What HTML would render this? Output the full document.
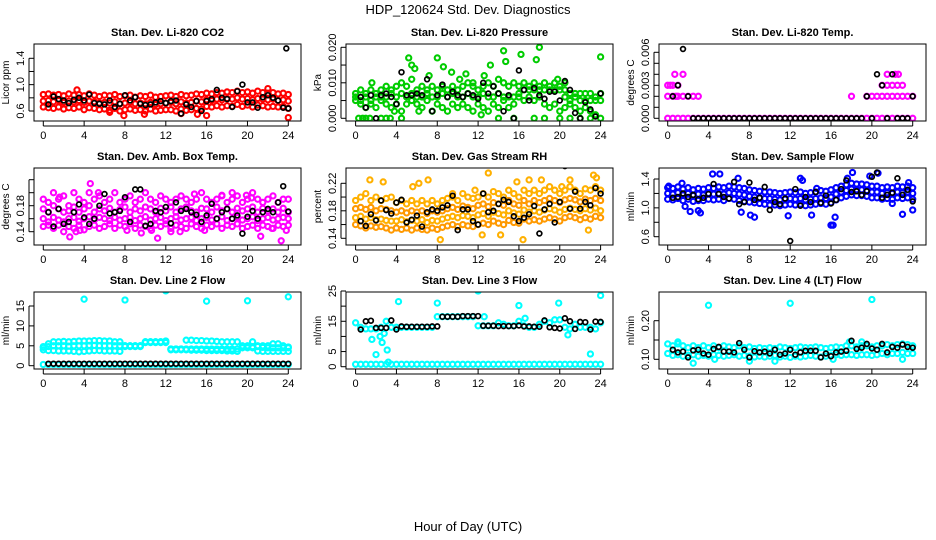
<!DOCTYPE html>
<html><head><meta charset="utf-8">
<style>
html,body{margin:0;padding:0;background:#fff;}
svg{display:block;font-family:"Liberation Sans",Arial,sans-serif;}
</style></head>
<body>
<svg id="chart" width="936" height="540" viewBox="0 0 936 540" xmlns="http://www.w3.org/2000/svg">
<text x="468" y="14" text-anchor="middle" font-size="13">HDP_120624  Std. Dev. Diagnostics</text>
<text x="468" y="531" text-anchor="middle" font-size="13">Hour of Day (UTC)</text>
</svg>
<script>
const gridHours=[0,0.5,1,1.5,2,2.5,3,3.5,4,4.5,5,5.5,6,6.5,7,7.5,8,8.5,9,9.5,10,10.5,11,11.5,12,12.5,13,13.5,14,14.5,15,15.5,16,16.5,17,17.5,18,18.5,19,19.5,20,20.5,21,21.5,22,22.5,23,23.5,24];
const blackHours=[0.5,1,1.5,2,2.5,3,3.5,4,4.5,5,5.5,6,6.5,7,7.5,8,8.5,9,9.5,10,10.5,11,11.5,12,12.5,13,13.5,14,14.5,15,15.5,16,16.5,17,17.5,18,18.5,19,19.5,20,20.5,21,21.5,22,22.5,23,23.5,24];
const xTicks=[0,4,8,12,16,20,24];
const panelTitles=["Stan. Dev. Li-820 CO2","Stan. Dev. Li-820 Pressure","Stan. Dev. Li-820 Temp.","Stan. Dev. Amb. Box Temp.","Stan. Dev. Gas Stream RH","Stan. Dev. Sample Flow","Stan. Dev. Line 2 Flow","Stan. Dev. Line 3 Flow","Stan. Dev. Line 4 (LT) Flow"];
const yTitles=["Licor ppm","kPa","degrees C","degrees C","percent","ml/min","ml/min","ml/min","ml/min"];
const yTicks=[[0.6,0.8,1.0,1.2,1.4],[0,0.005,0.01,0.015,0.02],[0,0.001,0.002,0.003,0.004,0.005,0.006],[0.14,0.16,0.18,0.2,0.22],[0.14,0.16,0.18,0.2,0.22],[0.6,0.8,1.0,1.2,1.4],[0,5,10,15],[0,5,10,15,20,25],[0.1,0.15,0.2]];
const yTickLabels=[["0.6","","1.0","","1.4"],["0.000","","0.010","","0.020"],["0.000","","","0.003","","","0.006"],["0.14","","0.18","",""],["0.14","","0.18","","0.22"],["0.6","","1.0","","1.4"],["0","5","10","15"],["0","5","","15","","25"],["0.10","","0.20"]];

// P1 CO2
const co2Hi=[0.85,0.86,0.84,0.85,0.83,0.86,0.84,0.85,0.83,0.86,0.84,0.82,0.84,0.83,0.85,0.82,0.83,0.84,0.81,0.83,0.82,0.84,0.81,0.82,0.83,0.84,0.82,0.85,0.83,0.84,0.86,0.85,0.87,0.86,0.88,0.87,0.89,0.88,0.90,0.88,0.89,0.87,0.90,0.88,0.87,0.88,0.86,0.87,0.85];
const co2Mid=[0.75,0.76,0.74,0.76,0.73,0.75,0.74,0.76,0.73,0.75,0.74,0.72,0.73,0.72,0.74,0.71,0.72,0.73,0.71,0.72,0.71,0.73,0.70,0.71,0.72,0.73,0.71,0.74,0.72,0.73,0.75,0.74,0.77,0.76,0.78,0.77,0.79,0.78,0.80,0.78,0.79,0.77,0.79,0.78,0.77,0.78,0.76,0.77,0.75];
const co2Lo=[0.66,0.65,0.64,0.66,0.63,0.65,0.64,0.66,0.62,0.65,0.64,0.62,0.63,0.61,0.64,0.60,0.62,0.63,0.61,0.62,0.60,0.63,0.60,0.61,0.62,0.62,0.60,0.63,0.61,0.62,0.64,0.63,0.67,0.66,0.68,0.66,0.68,0.67,0.70,0.67,0.69,0.66,0.69,0.68,0.66,0.67,0.66,0.67,0.64];
const co2OutX=[3.3,6.5,7.9,9.9,13.5,15.1,16.0,22.0,24.0];
const co2OutY=[0.92,0.58,0.53,0.55,0.56,0.55,0.53,0.94,0.50];
const co2Black=[0.70,0.82,0.78,0.76,0.72,0.77,0.80,0.76,0.85,0.72,0.71,0.70,0.76,0.66,0.71,0.84,0.76,0.81,0.71,0.69,0.70,0.73,0.75,0.72,0.75,0.76,0.56,0.70,0.66,0.75,0.60,0.75,0.78,0.92,0.80,0.78,0.66,0.90,1.00,0.73,0.73,0.65,0.81,0.84,0.80,0.76,0.65,0.64];
const co2BlackOutX=[23.8];
const co2BlackOutY=[1.55];

// P2 pressure
const presHi=[0.007,0.008,0.007,0.008,0.007,0.008,0.009,0.008,0.009,0.010,0.009,0.011,0.008,0.009,0.008,0.009,0.008,0.009,0.008,0.009,0.008,0.009,0.010,0.009,0.008,0.009,0.010,0.009,0.011,0.010,0.009,0.010,0.009,0.010,0.009,0.010,0.009,0.010,0.009,0.010,0.009,0.008,0.007,0.007,0.007,0.007,0.007,0.006,0.007];
const presMid=[0.006,0.005,0.006,0.005,0.006,0.006,0.006,0.007,0.006,0.007,0.006,0.007,0.006,0.006,0.007,0.006,0.006,0.007,0.006,0.007,0.006,0.006,0.007,0.006,0.006,0.007,0.006,0.006,0.007,0.006,0.006,0.006,0.007,0.008,0.008,0.008,0.008,0.008,0.008,0.008,0.008,0.006,0.005,0.006,0.005,0.005,0.005,0.005,0.005];
const presLo=[0.005,0.004,0.003,0.004,0.003,0.005,0.004,0.003,0.004,0.002,0.004,0.005,0.004,0.003,0.005,0.002,0.004,0.003,0.002,0.004,0.003,0.004,0.003,0.002,0.004,0.003,0.002,0.004,0.003,0.005,0.003,0.004,0.006,0.005,0.006,0.005,0.006,0.004,0.003,0.004,0.002,0.003,0.004,0.003,0.002,0.003,0.002,0.001,0.000];
const presOutX=[0.3,0.7,1.0,1.4,2.5,3.0,3.4,4.5,1.6,5.2,5.5,5.8,8.0,8.6,9.4,10.8,12.6,13.2,14.5,14.7,16.2,17.7,18.0,19.8,20.5,24.0,6.2,3.8,14.0,15.5,17.5,18.5,20,21,22,23,11.5,10.2,7.2,12.3];
const presOutY=[0,0,0,0,0,0,0,0,0.010,0.017,0.015,0.014,0.017,0.0145,0.013,0.0125,0.012,0.015,0.019,0.016,0.018,0.0165,0.020,0.011,0.010,0.0173,0.002,0.002,0,0,0,0,0,0,0,0,0.010,0.011,0.012,0.001];
const presBlack=[0.006,0.003,0.0065,0.000,0.0065,0.007,0.006,0.004,0.013,0.0065,0.0065,0.007,0.0065,0.011,0.002,0.0065,0.0095,0.006,0.0075,0.0065,0.006,0.007,0.0065,0.0055,0.010,0.007,0.009,0.007,0.002,0.0065,0.000,0.0135,0.008,0.005,0.0085,0.0065,0.0055,0.0075,0.0075,0.005,0.0105,0.008,0.0015,0.000,0.0045,0.0025,0.0005,0.007];

// P3 temp
const tempZero=[0,0,0,0,0,0,0,0,0,0,0,0,0,0,0,0,0,0,0,0,0,0,0,0,0,0,0,0,0,0,0,0,0,0,0,0,0,0,0,0,0,0,0,0,0,0,0,0,0];
const tempTwo=[0.002,0.002,0.002,0.002,0.002,0.002,0.002,null,null,null,null,null,null,null,null,null,null,null,null,null,null,null,null,null,null,null,null,null,null,null,null,null,null,null,null,null,0.002,null,null,0.002,0.002,0.002,0.002,0.002,0.002,0.002,0.002,0.002,0.002];
const tempThree=[0.003,0.003,0.003,null,null,null,null,null,null,null,null,null,null,null,null,null,null,null,null,null,null,null,null,null,null,null,null,null,null,null,null,null,null,null,null,null,null,null,null,null,null,null,0.003,0.003,0.003,0.003,0.003,null,null];
const tempOutX=[0.7,1.5,21.5,22.3,22.6,0.25,0.8];
const tempOutY=[0.004,0.004,0.004,0.004,0.004,0.003,0.002];
const tempBlack=[0.002,0.003,0.0063,0.002,0,0,0,0,0,0,0,0,0,0,0,0,0,0,0,0,0,0,0,0,0,0,0,0,0,0,0,0,0,0,0,0,0,0,0.002,0,0.004,0.003,0,0.004,0,0,0,0.002];

// P4 ambient box temp
const ambHi=[0.19,0.185,0.20,0.19,0.195,0.18,0.20,0.19,0.185,0.20,0.19,0.195,0.185,0.19,0.2,0.185,0.19,0.195,0.185,0.19,0.2,0.19,0.185,0.195,0.19,0.185,0.19,0.195,0.19,0.185,0.19,0.2,0.19,0.185,0.19,0.195,0.185,0.19,0.195,0.185,0.19,0.2,0.19,0.185,0.19,0.195,0.185,0.19,0.19];
const ambM1=[0.175,0.17,0.18,0.175,0.17,0.172,0.178,0.17,0.175,0.18,0.17,0.175,0.172,0.176,0.17,0.174,0.178,0.17,0.175,0.172,0.178,0.175,0.17,0.176,0.172,0.178,0.17,0.175,0.178,0.172,0.17,0.176,0.175,0.17,0.178,0.172,0.175,0.17,0.176,0.172,0.175,0.178,0.17,0.176,0.172,0.175,0.17,0.176,0.17];
const ambM2=[0.16,0.155,0.162,0.158,0.155,0.16,0.162,0.156,0.16,0.163,0.158,0.162,0.16,0.157,0.162,0.158,0.16,0.162,0.157,0.16,0.163,0.158,0.16,0.162,0.157,0.16,0.163,0.158,0.16,0.162,0.157,0.16,0.162,0.158,0.16,0.163,0.157,0.16,0.162,0.158,0.16,0.163,0.157,0.16,0.162,0.158,0.16,0.162,0.16];
const ambLo=[0.148,0.15,0.145,0.15,0.14,0.148,0.145,0.15,0.143,0.148,0.15,0.145,0.148,0.152,0.145,0.15,0.148,0.152,0.145,0.15,0.148,0.145,0.15,0.148,0.152,0.145,0.15,0.148,0.145,0.152,0.148,0.145,0.15,0.148,0.152,0.145,0.15,0.148,0.152,0.145,0.148,0.15,0.145,0.15,0.148,0.145,0.15,0.148,0.15];
const ambOutX=[4.6,1.6,2.6,3.2,3.6,5.4,8.2,9.6,10.6,11.2,13.4,14.8,15.8,17.5,18.5,20.4,21.3,22.4,23.3,23.8,19.9,12.5];
const ambOutY=[0.214,0.193,0.132,0.14,0.142,0.20,0.142,0.138,0.142,0.13,0.14,0.198,0.142,0.196,0.20,0.192,0.133,0.145,0.126,0.142,0.196,0.14];
const ambBlack=[0.17,0.148,0.175,0.152,0.155,0.17,0.182,0.162,0.152,0.160,0.180,0.198,0.168,0.17,0.172,0.193,0.155,0.205,0.205,0.149,0.152,0.172,0.17,0.178,0.153,0.185,0.172,0.175,0.170,0.166,0.155,0.165,0.183,0.160,0.17,0.175,0.160,0.165,0.137,0.163,0.172,0.160,0.170,0.175,0.170,0.185,0.210,0.171];

// P5 gas stream RH
const rhHi=[0.195,0.20,0.205,0.195,0.20,0.195,0.198,0.20,0.192,0.195,0.19,0.195,0.19,0.195,0.19,0.195,0.19,0.195,0.198,0.2,0.195,0.205,0.20,0.198,0.2,0.205,0.20,0.208,0.205,0.2,0.21,0.205,0.2,0.21,0.205,0.21,0.205,0.21,0.215,0.21,0.205,0.21,0.215,0.21,0.205,0.212,0.21,0.215,0.21];
const rhM1=[0.183,0.185,0.182,0.185,0.18,0.183,0.182,0.18,0.178,0.18,0.177,0.18,0.178,0.18,0.176,0.18,0.178,0.18,0.183,0.185,0.182,0.187,0.185,0.183,0.188,0.19,0.186,0.192,0.19,0.188,0.195,0.19,0.188,0.195,0.19,0.195,0.192,0.195,0.198,0.195,0.192,0.196,0.198,0.196,0.193,0.197,0.195,0.198,0.195];
const rhM2=[0.17,0.172,0.168,0.17,0.167,0.168,0.166,0.165,0.165,0.167,0.164,0.166,0.165,0.167,0.163,0.166,0.165,0.168,0.17,0.172,0.17,0.173,0.172,0.17,0.174,0.176,0.172,0.178,0.176,0.174,0.18,0.177,0.175,0.181,0.178,0.18,0.178,0.181,0.183,0.181,0.178,0.182,0.184,0.182,0.18,0.183,0.181,0.184,0.18];
const rhLo=[0.16,0.158,0.155,0.158,0.156,0.157,0.155,0.152,0.155,0.153,0.155,0.152,0.155,0.153,0.152,0.155,0.153,0.156,0.158,0.16,0.157,0.16,0.158,0.157,0.16,0.162,0.16,0.165,0.162,0.16,0.166,0.163,0.162,0.168,0.165,0.167,0.165,0.168,0.17,0.168,0.165,0.17,0.172,0.17,0.167,0.17,0.168,0.172,0.17];
const rhOutX=[1.4,2.7,5.6,6.2,7.1,8.3,9.5,11.7,13.0,14.2,16.4,17.0,18.2,20.2,21.0,22.8,23.3,23.6,12.4,15.8];
const rhOutY=[0.225,0.222,0.215,0.22,0.225,0.138,0.205,0.21,0.235,0.145,0.138,0.225,0.225,0.215,0.225,0.152,0.232,0.228,0.145,0.222];
const rhBlack=[0.165,0.158,0.175,0.166,0.195,0.181,0.176,0.192,0.196,0.163,0.167,0.173,0.157,0.178,0.182,0.18,0.185,0.188,0.202,0.152,0.182,0.182,0.165,0.16,0.205,0.178,0.18,0.19,0.196,0.193,0.172,0.165,0.17,0.175,0.187,0.147,0.182,0.19,0.163,0.193,0.245,0.183,0.208,0.183,0.193,0.188,0.213,0.205];

// P6 sample flow
const sfHi=[1.28,1.27,1.29,1.26,1.28,1.25,1.27,1.26,1.28,1.27,1.29,1.28,1.3,1.29,1.28,1.27,1.25,1.24,1.23,1.22,1.22,1.21,1.2,1.21,1.22,1.21,1.22,1.2,1.21,1.22,1.24,1.23,1.25,1.28,1.3,1.32,1.34,1.33,1.33,1.32,1.3,1.3,1.28,1.29,1.28,1.3,1.29,1.3,1.28];
const sfMid=[1.2,1.19,1.21,1.18,1.2,1.17,1.19,1.18,1.2,1.19,1.2,1.19,1.21,1.2,1.19,1.18,1.16,1.15,1.14,1.13,1.13,1.12,1.11,1.12,1.13,1.12,1.13,1.11,1.12,1.13,1.14,1.13,1.15,1.19,1.22,1.24,1.26,1.25,1.25,1.24,1.22,1.22,1.2,1.21,1.2,1.22,1.21,1.22,1.2];
const sfLo=[1.12,1.11,1.13,1.1,1.12,1.09,1.1,1.1,1.12,1.11,1.12,1.1,1.13,1.12,1.1,1.09,1.08,1.07,1.06,1.05,1.04,1.04,1.03,1.04,1.05,1.04,1.05,1.03,1.04,1.05,1.06,1.05,1.07,1.11,1.14,1.16,1.18,1.17,1.17,1.16,1.14,1.14,1.12,1.13,1.12,1.14,1.13,1.14,1.12];
const sfOutX=[0.1,1.4,1.7,2.2,3.0,3.2,4.4,5.1,6.9,7.2,8.1,8.5,11.8,13.0,13.2,14.1,14.6,16.0,16.2,16.4,17.6,18.1,19.8,20.6,22.0,23.0,23.6,24.0];
const sfOutY=[1.3,1.34,1.02,0.95,0.96,0.93,1.47,1.47,1.41,0.94,0.9,0.87,0.89,1.41,1.38,0.9,1.27,0.76,0.76,0.87,1.41,1.49,1.44,1.48,1.06,0.91,1.35,0.97];
const sfBlack=[1.14,1.15,1.2,1.15,1.18,1.12,1.14,1.19,1.33,1.19,1.15,1.13,1.36,1.05,1.08,1.35,1.11,1.14,1.29,0.97,1.08,1.05,1.13,0.54,1.26,1.03,1.15,1.08,1.22,1.07,1.17,1.06,1.11,1.26,1.38,1.22,1.23,1.18,1.23,1.43,1.49,1.14,1.18,1.21,1.41,1.18,1.25,1.09];

// P7 line 2 flow
const l2Zero=[0.3,0.3,0.3,0.3,0.3,0.3,0.3,0.3,0.3,0.3,0.3,0.3,0.3,0.3,0.3,0.3,0.3,0.3,0.3,0.3,0.3,0.3,0.3,0.3,0.3,0.3,0.3,0.3,0.3,0.3,0.3,0.3,0.3,0.3,0.3,0.3,0.3,0.3,0.3,0.3,0.3,0.3,0.3,0.3,0.3,0.3,0.3,0.3,0.3];
const l2Hi=[4.8,5.5,6.0,6.0,6.1,6.0,6.1,6.2,6.2,6.2,6.3,6.3,6.2,6.2,6.0,6.0,5.0,5.0,5.0,5.0,6.0,6.0,6.0,6.0,6.2,4.2,4.2,4.2,6.4,6.4,6.3,6.3,6.2,6.2,6.1,6.0,6.0,6.0,6.0,5.0,5.0,6.0,5.0,5.0,5.0,5.5,5.5,5.0,4.7];
const l2Mid=[4.6,4.8,5.0,5.0,5.0,4.9,5.0,5.0,5.0,5.1,5.1,5.0,5.0,5.0,5.0,5.0,5.0,5.0,5.0,5.0,6.0,6.0,6.0,6.0,6.0,4.2,4.2,4.2,4.2,4.2,4.2,4.2,4.2,4.2,4.2,4.2,4.2,4.2,4.2,4.8,4.8,4.8,4.8,4.6,4.5,4.5,4.5,4.5,4.5];
const l2Lo=[4.0,3.8,3.8,3.7,3.7,3.7,3.6,3.5,3.6,3.7,3.8,3.8,3.7,3.7,3.7,3.6,4.8,4.8,4.8,4.8,5.8,5.8,5.8,5.8,5.8,4.0,4.0,4.0,4.0,3.9,3.9,3.9,3.8,3.8,3.8,3.8,3.7,3.7,3.6,4.5,4.5,4.5,3.7,3.6,3.6,3.6,3.6,3.6,3.6];
const l2OutX=[4,8,12,16,20,24];
const l2OutY=[16.7,16.5,18.8,16.2,16.3,17.3];
const l2Black=[0.5,0.5,0.5,0.5,0.5,0.5,0.5,0.5,0.5,0.5,0.5,0.5,0.5,0.5,0.5,0.5,0.5,0.5,0.5,0.5,0.5,0.5,0.5,0.5,0.5,0.5,0.5,0.5,0.5,0.5,0.5,0.5,0.5,0.5,0.5,0.5,0.5,0.5,0.5,0.5,0.5,0.5,0.5,0.5,0.5,0.5,0.5,0.5];

// P8 line 3 flow
const l3Zero=[0.8,0.8,0.8,0.8,0.8,0.8,0.8,0.8,0.8,0.8,0.8,0.8,0.8,0.8,0.8,0.8,0.8,0.8,0.8,0.8,0.8,0.8,0.8,0.8,0.8,0.8,0.8,0.8,0.8,0.8,0.8,0.8,0.8,0.8,0.8,0.8,0.8,0.8,0.8,0.8,0.8,0.8,0.8,0.8,0.8,0.8,0.8,0.8,0.8];
const l3Band=[14.5,13.0,12.5,12.5,12.5,13.0,15.0,13.0,13.0,13.0,13.0,13.0,13.0,13.0,13.0,13.0,16.5,16.5,16.5,16.5,16.5,16.5,16.5,16.5,13.5,13.5,13.5,13.5,14.5,14.0,13.5,13.5,15.0,13.5,13.0,13.0,14.0,15.0,14.5,15.5,15.5,13.0,12.5,14.0,13.0,13.0,13.0,12.5,14.5];
const l3OutX=[1.6,2.0,2.4,2.6,2.8,3.1,3.2,4.2,8.0,12.0,12.6,16.0,16.6,19.9,20.8,23.0,24.0];
const l3OutY=[9,4,10,8,11,5.5,1.5,21.5,21,25,16.5,20.2,16,21,10.5,4.2,23.5];
const l3Black=[12.3,15.0,15.2,12.8,12.8,12.8,15.3,12.3,13.3,13.2,13.2,13.2,13.2,13.2,13.3,13.3,16.5,16.5,16.5,16.5,16.7,16.7,16.7,16.7,13.5,13.5,13.5,13.4,13.4,13.4,13.4,13.6,13.3,13.3,13.2,13.2,15.3,13.0,12.8,12.6,16.0,15.0,12.5,14.8,14.7,12.3,14.9,14.8];

// P9 line 4 flow
const l4Hi=[0.14,0.135,0.14,0.135,0.13,0.135,0.13,0.135,0.13,0.135,0.13,0.135,0.132,0.13,0.135,0.13,0.132,0.128,0.13,0.128,0.13,0.128,0.132,0.13,0.128,0.13,0.132,0.13,0.13,0.132,0.13,0.128,0.13,0.132,0.13,0.135,0.135,0.132,0.135,0.135,0.132,0.135,0.135,0.138,0.135,0.138,0.14,0.138,0.135];
const l4Lo=[0.115,0.11,0.112,0.108,0.11,0.112,0.108,0.11,0.108,0.112,0.11,0.108,0.11,0.112,0.108,0.11,0.108,0.106,0.108,0.106,0.108,0.11,0.106,0.108,0.105,0.108,0.106,0.108,0.11,0.108,0.106,0.108,0.11,0.112,0.11,0.112,0.112,0.11,0.112,0.112,0.11,0.112,0.115,0.112,0.115,0.115,0.118,0.115,0.115];
const l4OutX=[4.0,12.0,20.0,1.0,2.5,4.6,8.0,10.5,16.2,17.8,19.0,23.0];
const l4OutY=[0.24,0.245,0.255,0.145,0.09,0.1,0.095,0.095,0.1,0.145,0.145,0.1];
const l4Black=[0.125,0.118,0.12,0.105,0.123,0.125,0.115,0.112,0.127,0.132,0.12,0.12,0.118,0.142,0.125,0.105,0.121,0.118,0.12,0.115,0.125,0.112,0.115,0.125,0.112,0.118,0.122,0.122,0.122,0.105,0.115,0.108,0.118,0.12,0.122,0.148,0.127,0.13,0.14,0.128,0.125,0.14,0.118,0.132,0.13,0.138,0.132,0.13];

const NS="http://www.w3.org/2000/svg";
const svg=document.getElementById('chart');
const colLeft=[34,346,659], rowTop=[44,168,292], boxW=267, boxH=77;
const hour0=[43.3,355.6,667.7], pxPerHour=245/24;
const yAnchors=[[0.6,111,1.4,58.3],[0,118.3,0.02,47.3],[0,118.3,0.006,52.3],[0.14,231.7,0.18,205.7],[0.14,238.3,0.22,183.3],[0.6,236.7,1.4,179],[0,365.7,15,306],[0,366.7,25,291],[0.1,359.3,0.2,320.7]];
function xScale(p,h){return hour0[p%3]+h*pxPerHour;}
function yScale(p,v){const a=yAnchors[p];return a[1]+(v-a[0])*(a[3]-a[1])/(a[2]-a[0]);}
function mk(tag,attrs){const e=document.createElementNS(NS,tag);for(const k in attrs)e.setAttribute(k,attrs[k]);return e;}

function drawPoints(g,p,xs,ys,color,name){
  const isBlack=color==='#000';
  for(let i=0;i<ys.length;i++){
    if(ys[i]===null||ys[i]===undefined)continue;
    const c=mk('circle',{cx:xScale(p,xs[i]).toFixed(1),cy:yScale(p,ys[i]).toFixed(1),r:isBlack?2.4:2.6,fill:'none',stroke:color,'stroke-width':isBlack?1.7:2.1});
    
    
    g.appendChild(c);
  }
}

const series=[
 [[gridHours,co2Hi,'#ff0000'],[gridHours,co2Mid,'#ff0000'],[gridHours,co2Lo,'#ff0000'],[co2OutX,co2OutY,'#ff0000'],[blackHours,co2Black,'#000'],[co2BlackOutX,co2BlackOutY,'#000']],
 [[gridHours,presHi,'#00cc00'],[gridHours,presMid,'#00cc00'],[gridHours,presLo,'#00cc00'],[presOutX,presOutY,'#00cc00'],[blackHours,presBlack,'#000']],
 [[gridHours,tempZero,'#ff00ff'],[gridHours,tempTwo,'#ff00ff'],[gridHours,tempThree,'#ff00ff'],[tempOutX,tempOutY,'#ff00ff'],[blackHours,tempBlack,'#000']],
 [[gridHours,ambHi,'#ff00ff'],[gridHours,ambM1,'#ff00ff'],[gridHours,ambM2,'#ff00ff'],[gridHours,ambLo,'#ff00ff'],[ambOutX,ambOutY,'#ff00ff'],[blackHours,ambBlack,'#000']],
 [[gridHours,rhHi,'#ffb000'],[gridHours,rhM1,'#ff9900'],[gridHours,rhM2,'#ffb000'],[gridHours,rhLo,'#ff9900'],[rhOutX,rhOutY,'#ffb000'],[blackHours,rhBlack,'#000']],
 [[gridHours,sfHi,'#0000ff'],[gridHours,sfMid,'#0000ff'],[gridHours,sfLo,'#0000ff'],[sfOutX,sfOutY,'#0000ff'],[blackHours,sfBlack,'#000']],
 [[gridHours,l2Zero,'#00ffff'],[gridHours,l2Hi,'#00ffff'],[gridHours,l2Mid,'#00ffff'],[gridHours,l2Lo,'#00ffff'],[l2OutX,l2OutY,'#00ffff'],[blackHours,l2Black,'#000']],
 [[gridHours,l3Zero,'#00ffff'],[gridHours,l3Band,'#00ffff'],[l3OutX,l3OutY,'#00ffff'],[blackHours,l3Black,'#000']],
 [[gridHours,l4Hi,'#00ffff'],[gridHours,l4Lo,'#00ffff'],[l4OutX,l4OutY,'#00ffff'],[blackHours,l4Black,'#000']]
];

for(let p=0;p<9;p++){
  const L=colLeft[p%3], T=rowTop[Math.floor(p/3)], B=T+boxH;
  const g=mk('g',{});
  
  
  svg.appendChild(g);
  const title=mk('text',{x:L+boxW/2,y:T-8,'text-anchor':'middle','font-size':11,'font-weight':'bold'});
  title.textContent=panelTitles[p];
  
  
  g.appendChild(title);
  const cid='clip'+p;
  const cp=mk('clipPath',{id:cid});cp.appendChild(mk('rect',{x:L,y:T,width:boxW,height:boxH}));g.appendChild(cp);
  const pg=mk('g',{'clip-path':'url(#'+cid+')'});
  
  
  g.appendChild(pg);
  series[p].forEach(s=>drawPoints(pg,p,s[0],s[1],s[2],s[2]==='#000'?'black-point':'series-point'));
  const box=mk('rect',{x:L,y:T,width:boxW,height:boxH,fill:'none',stroke:'#000','stroke-width':1});
  
  
  g.appendChild(box);
  xTicks.forEach(h=>{
    const x=xScale(p,h);
    g.appendChild(mk('line',{x1:x,x2:x,y1:B,y2:B+5,stroke:'#000'}));
    const t=mk('text',{x:x,y:B+18,'text-anchor':'middle','font-size':11});
    t.textContent=h;
    
    
    g.appendChild(t);
  });
  g.appendChild(mk('line',{x1:xScale(p,0),x2:xScale(p,24),y1:B+5,y2:B+5,stroke:'#000'}));
  const yt=yTicks[p], yl=yTickLabels[p];
  g.appendChild(mk('line',{x1:L-5,x2:L-5,y1:yScale(p,yt[0]),y2:yScale(p,yt[yt.length-1]),stroke:'#000'}));
  yt.forEach((v,i)=>{
    const y=yScale(p,v);
    g.appendChild(mk('line',{x1:L-5,x2:L,y1:y,y2:y,stroke:'#000'}));
    if(yl[i]){
      const t=mk('text',{x:0,y:0,'text-anchor':'middle','font-size':11,transform:'translate('+(L-10)+','+y+') rotate(-90)'});
      t.textContent=yl[i];
      
      
      g.appendChild(t);
    }
  });
  const ytl=mk('text',{x:0,y:0,'text-anchor':'middle','font-size':10,transform:'translate('+(L-25)+','+(T+boxH/2)+') rotate(-90)'});
  ytl.textContent=yTitles[p];
  
  
  g.appendChild(ytl);
}
</script>
</body></html>
